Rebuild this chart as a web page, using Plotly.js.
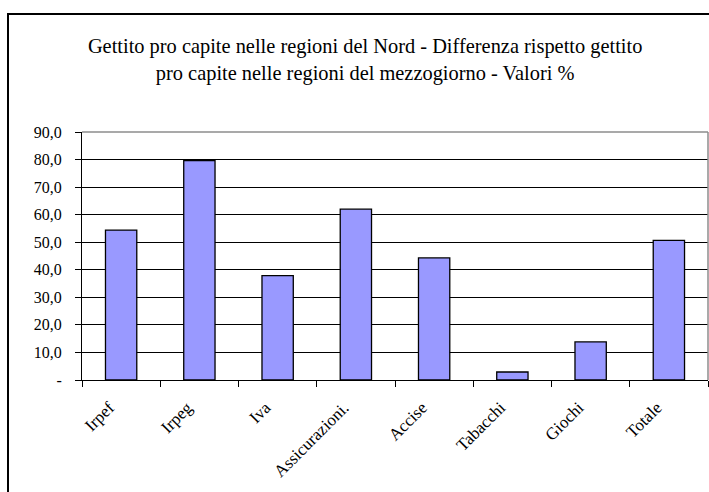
<!DOCTYPE html>
<html>
<head>
<meta charset="utf-8">
<script src="https://cdn.plot.ly/plotly-3.0.1.min.js"></script>
<style>
  html, body { margin: 0; padding: 0; background: #fff; }
  #wrap { position: relative; width: 709px; height: 492px; overflow: hidden; }
  #chart { width: 709px; height: 492px; }
  #frame { position: absolute; left: 7px; top: 13px; width: 800px; height: 600px;
           border-left: 2px solid #000; border-top: 2px solid #000; pointer-events: none; }
</style>
</head>
<body>
<div id="wrap">
  <div id="chart"></div>
  <div id="frame"></div>
</div>
<script>
const categories = ["Irpef", "Irpeg", "Iva", "Assicurazioni.", "Accise", "Tabacchi", "Giochi", "Totale"];
const values = [54.4, 79.6, 37.9, 62.0, 44.3, 2.9, 13.8, 50.7];
const yTickVals = [0, 10, 20, 30, 40, 50, 60, 70, 80, 90];
const yTickText = ["-", "10,0", "20,0", "30,0", "40,0", "50,0", "60,0", "70,0", "80,0", "90,0"];
const titleText = "Gettito pro capite nelle regioni del Nord - Differenza rispetto gettito<br>pro capite nelle regioni del mezzogiorno - Valori %";

const font = "Liberation Serif, Times New Roman, serif";

const trace = {
  type: "bar",
  x: categories,
  y: values,
  marker: { color: "#9999FF", line: { color: "#000000", width: 1.3 } },
  hoverinfo: "x+y"
};

const layout = {
  width: 709,
  height: 492,
  margin: { l: 82, r: 1, t: 132, b: 112 },
  paper_bgcolor: "#ffffff",
  plot_bgcolor: "#ffffff",
  showlegend: false,
  bargap: 0.6,
  font: { family: font, color: "#000", size: 15 },
  title: {
    text: titleText,
    font: { family: font, size: 20.4, color: "#000" },
    x: 0.515, xanchor: "center", xref: "container",
    y: 0.892, yanchor: "top", yref: "container"
  },
  xaxis: {
    type: "category",
    tickangle: -45,
    tickson: "boundaries",
    ticks: "outside",
    ticklen: 6,
    tickcolor: "#000",
    ticklabelstandoff: 10,
    ticklabelshift: -12,
    showline: true,
    linecolor: "#000",
    linewidth: 1,
    showgrid: false,
    tickfont: { family: font, size: 17, color: "#000" },
    fixedrange: true
  },
  yaxis: {
    range: [0, 90],
    tickvals: yTickVals,
    ticktext: yTickText,
    ticks: "outside",
    ticklen: 6,
    tickcolor: "#000",
    ticklabelstandoff: 10,
    showline: true,
    linecolor: "#000",
    linewidth: 1,
    showgrid: true,
    gridcolor: "#000",
    gridwidth: 1,
    zeroline: false,
    tickfont: { family: font, size: 16, color: "#000" },
    fixedrange: true
  },
  shapes: [
    { type: "line", xref: "paper", yref: "paper", x0: 0, x1: 1, y0: 1, y1: 1,
      line: { color: "#8c8c8c", width: 1.5 }, layer: "above" },
    { type: "line", xref: "paper", yref: "paper", x0: 1, x1: 1, y0: 0, y1: 1,
      line: { color: "#8c8c8c", width: 1.5 }, layer: "above" }
  ]
};

Plotly.newPlot("chart", [trace], layout, { displayModeBar: false, staticPlot: true });
</script>
</body>
</html>
